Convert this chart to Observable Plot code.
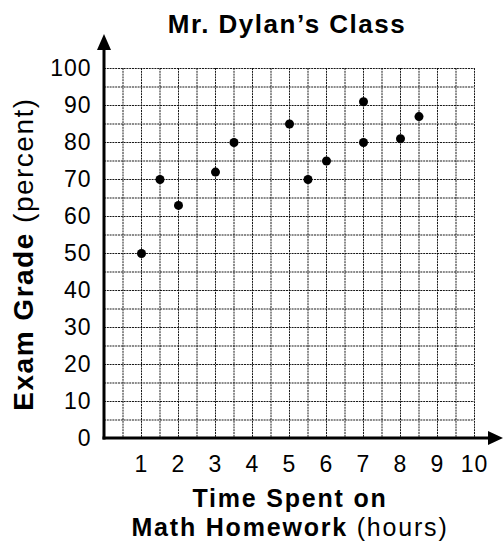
<!DOCTYPE html>
<html><head><meta charset="utf-8">
<script src="https://cdn.jsdelivr.net/npm/d3@7"></script>
<script src="https://cdn.jsdelivr.net/npm/@observablehq/plot@0.6"></script>
<style>
body{margin:0;background:#fff;font-family:"Liberation Sans",Arial,Helvetica,sans-serif;color:#000;}
#title{position:relative;height:30px;width:504px;}
#title span{position:absolute;left:287px;top:11px;transform:translateX(-50%);font-weight:bold;font-size:26px;line-height:1;letter-spacing:1.5px;white-space:nowrap;}
#chart svg{display:block;}
</style></head><body>
<div id="title"><span>Mr. Dylan’s Class</span></div>
<div id="chart"></div>
<script>
const hours  = [1, 1.5, 2, 3, 3.5, 5, 5.5, 6, 7, 7, 8, 8.5];
const grades = [50, 70, 63, 72, 80, 85, 70, 75, 91, 80, 81, 87];
const xTickLabels = [1, 2, 3, 4, 5, 6, 7, 8, 9, 10];
const yTickLabels = [0, 10, 20, 30, 40, 50, 60, 70, 80, 90, 100];
const yLabelBold = "Exam Grade", yLabelRest = " (percent)";
const xLabelLine1 = "Time Spent on";
const xLabelBold = "Math Homework", xLabelRest = " (hours)";

const data = hours.map((h, i) => ({hours: h, grade: grades[i]}));
const font = '"Liberation Sans", Arial, Helvetica, sans-serif';
const gridStyle = {stroke: "#000", strokeOpacity: 0.9, strokeWidth: 1, strokeDasharray: "2,0.8"};

const plot = Plot.plot({
  width: 504, height: 517,
  marginTop: 38, marginBottom: 109, marginLeft: 104, marginRight: 30,
  x: {domain: [0, 10]},
  y: {domain: [0, 100]},
  style: {fontFamily: font, fontSize: "23px", color: "#000", background: "#fff", overflow: "visible"},
  marks: [
    Plot.gridX(d3.range(0.5, 10.01, 0.5), gridStyle),
    Plot.gridY(d3.range(5, 100.01, 5), gridStyle),
    Plot.axisX(xTickLabels, {tickSize: 0, tickPadding: 17, fontSize: 23, label: null}),
    Plot.axisY(yTickLabels, {tickSize: 0, tickPadding: 13, fontSize: 23, label: null}),
    Plot.dot(data, {x: "hours", y: "grade", r: 4.5, fill: "#000", stroke: "none"})
  ]
});

const svg = d3.select(plot);
svg.selectAll("g[aria-label='x-axis tick label'] text, g[aria-label='y-axis tick label'] text").style("letter-spacing", "1px");
const xs = plot.scale("x"), ys = plot.scale("y");
const x0 = xs.apply(0), y0 = ys.apply(0);
const axes = svg.append("g");
// vertical axis with arrow
axes.append("line").attr("x1", x0).attr("x2", x0).attr("y1", y0 + 1.5).attr("y2", 18)
  .attr("stroke", "#000").attr("stroke-width", 3);
axes.append("path").attr("d", `M${x0},4 L${x0 - 7},20 L${x0 + 7},20 Z`).attr("fill", "#000");
// horizontal axis with arrow
axes.append("line").attr("x1", x0 - 1.5).attr("x2", 490).attr("y1", y0).attr("y2", y0)
  .attr("stroke", "#000").attr("stroke-width", 3);
axes.append("path").attr("d", `M503,${y0} L488,${y0 - 7} L488,${y0 + 7} Z`).attr("fill", "#000");

// y axis title
const yt = svg.append("text")
  .attr("transform", `translate(33,${(ys.apply(0) + ys.apply(100)) / 2 + 1}) rotate(-90)`)
  .attr("text-anchor", "middle").attr("font-size", 28).attr("font-family", font)
  .style("letter-spacing", "1.5px").style("white-space", "pre").attr("fill", "#000");
yt.append("tspan").attr("font-weight", "bold").text(yLabelBold);
yt.append("tspan").attr("font-weight", "normal").text(yLabelRest);

// x axis title
const xc = 290;
svg.append("text").attr("x", xc).attr("y", 477).attr("text-anchor", "middle")
  .attr("font-size", 25).attr("font-weight", "bold").attr("font-family", font)
  .style("letter-spacing", "1.8px").attr("fill", "#000").text(xLabelLine1);
const xt = svg.append("text").attr("x", xc).attr("y", 506).attr("text-anchor", "middle")
  .attr("font-size", 25).attr("font-family", font)
  .style("letter-spacing", "1.8px").style("white-space", "pre").attr("fill", "#000");
xt.append("tspan").attr("font-weight", "bold").text(xLabelBold);
xt.append("tspan").attr("font-weight", "normal").text(xLabelRest);

document.getElementById("chart").appendChild(plot);
</script>
</body></html>
